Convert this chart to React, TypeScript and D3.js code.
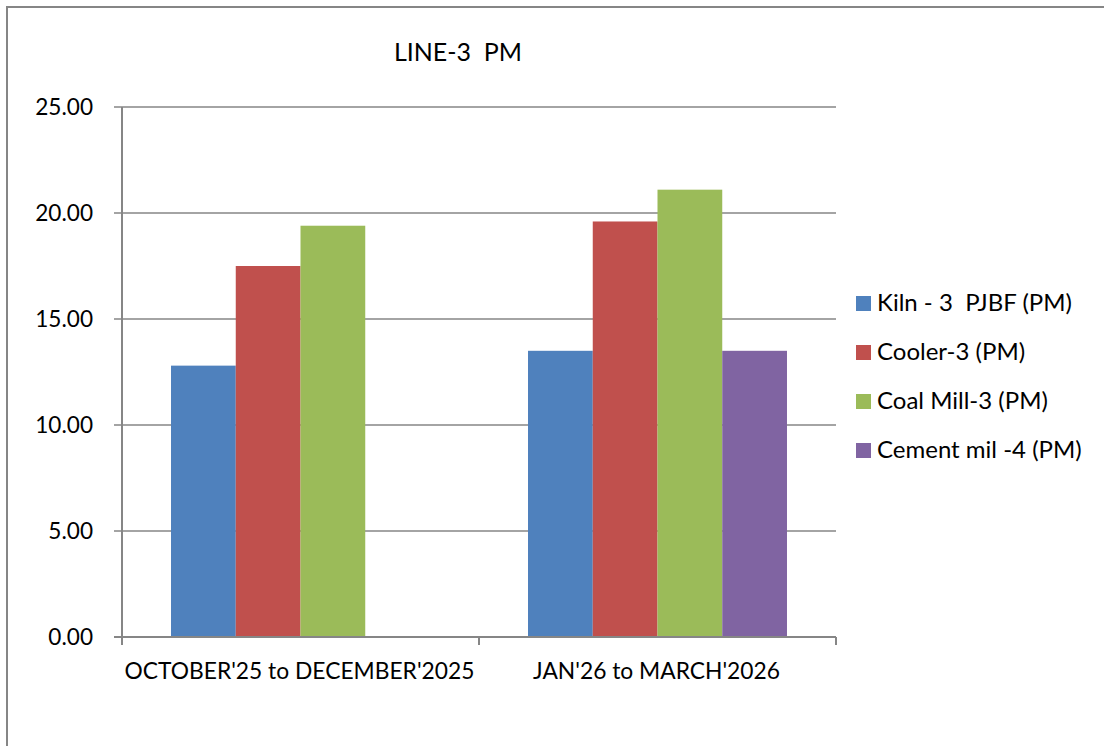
import React, { useEffect, useRef } from 'react';
import * as d3 from 'd3';

const categories = ["OCTOBER'25 to DECEMBER'2025", "JAN'26 to MARCH'2026"];
const seriesNames = ['Kiln - 3  PJBF (PM)', 'Cooler-3 (PM)', 'Coal Mill-3 (PM)', 'Cement mil -4 (PM)'];
const seriesColors = ['#4f81bd', '#c0504d', '#9bbb59', '#8064a2'];
// values per category, one per series (null = no bar)
const kilnValues = [12.8, 13.5];
const coolerValues = [17.5, 19.6];
const coalMillValues = [19.4, 21.1];
const cementMillValues = [null, 13.5];
const yTicks = [0, 5, 10, 15, 20, 25];

const W = 1104;
const H = 746;
const FONT = 'Lato, "Open Sans", sans-serif';

export default function App() {
  const ref = useRef<SVGSVGElement>(null);

  useEffect(() => {
    if (!ref.current) return;
    document.body.style.margin = '0';
    document.documentElement.style.overflow = 'hidden';
    document.body.style.overflow = 'hidden';

    const svg = d3.select(ref.current);
    svg.selectAll('*').remove();

    const left = 122, right = 836, top = 107, bottom = 637;
    const allValues = [kilnValues, coolerValues, coalMillValues, cementMillValues];

    // chart border (only left and top edges show in the frame)
    svg.append('path')
      .attr('d', `M7,${H}V7H${W}`)
      .attr('fill', 'none')
      .attr('stroke', '#868686').attr('stroke-width', 2);

    const x0 = d3.scaleBand<string>().domain(categories).range([left, right]).paddingInner(0).paddingOuter(0);
    const x1 = d3.scaleBand<number>().domain(d3.range(seriesNames.length))
      .range([0, x0.bandwidth()]).paddingOuter(0.757).paddingInner(0);
    const y = d3.scaleLinear().domain([0, 25]).range([bottom, top]);

    // gridlines
    svg.append('g').selectAll('line').data(yTicks.filter(t => t > 0)).enter().append('line')
      .attr('x1', left - 8).attr('x2', right)
      .attr('y1', d => y(d)).attr('y2', d => y(d))
      .attr('stroke', '#868686').attr('stroke-width', 1.5);

    // bars
    categories.forEach((c, ci) => {
      allValues.forEach((vals, si) => {
        const v = vals[ci];
        if (v == null) return;
        svg.append('rect')
          .attr('x', (x0(c) ?? 0) + (x1(si) ?? 0))
          .attr('y', y(v))
          .attr('width', x1.bandwidth())
          .attr('height', y(0) - y(v))
          .attr('fill', seriesColors[si]);
      });
    });

    // axes
    svg.append('line').attr('x1', left).attr('x2', left).attr('y1', top).attr('y2', bottom)
      .attr('stroke', '#868686').attr('stroke-width', 2);
    svg.append('line').attr('x1', left - 8).attr('x2', right).attr('y1', bottom).attr('y2', bottom)
      .attr('stroke', '#868686').attr('stroke-width', 2);
    svg.append('g').selectAll('text').data(yTicks).enter().append('text')
      .attr('x', 93).attr('y', d => y(d)).attr('dy', '0.35em')
      .attr('text-anchor', 'end')
      .style('font-family', FONT).style('font-size', '22.6px').attr('fill', '#000')
      .text(d => d3.format('.2f')(d));

    // x ticks
    const xTickPos = [left, ...categories.map(c => (x0(c) ?? 0) + x0.bandwidth())];
    svg.append('g').selectAll('line').data(xTickPos).enter().append('line')
      .attr('x1', d => d).attr('x2', d => d).attr('y1', bottom).attr('y2', bottom + 8)
      .attr('stroke', '#868686').attr('stroke-width', 2);
    svg.append('g').selectAll('text').data(categories).enter().append('text')
      .attr('x', d => (x0(d) ?? 0) + x0.bandwidth() / 2 - 1)
      .attr('y', 671).attr('dy', '0.35em')
      .attr('text-anchor', 'middle')
      .style('font-family', FONT).style('font-size', '22.8px').attr('fill', '#000')
      .text(d => d);

    // title
    svg.append('text').attr('x', 458).attr('y', 52).attr('dy', '0.35em')
      .attr('text-anchor', 'middle')
      .style('font-family', FONT).style('font-size', '25px').style('white-space', 'pre')
      .attr('fill', '#000')
      .text('LINE-3  PM');

    // legend
    const legend = svg.append('g').selectAll('g').data(seriesNames).enter().append('g')
      .attr('transform', (d, i) => `translate(856,${303 + i * 49})`);
    legend.append('rect').attr('x', 0).attr('y', -7).attr('width', 15).attr('height', 15)
      .attr('fill', (d, i) => seriesColors[i]);
    legend.append('text').attr('x', 21).attr('y', 0).attr('dy', '0.35em')
      .style('font-family', FONT).style('font-size', '24px').style('white-space', 'pre')
      .attr('fill', '#000')
      .text(d => d);
  }, []);

  return (
    <svg ref={ref} width={W} height={H} style={{ position: 'absolute', left: 0, top: 0, display: 'block' }} />
  );
}
